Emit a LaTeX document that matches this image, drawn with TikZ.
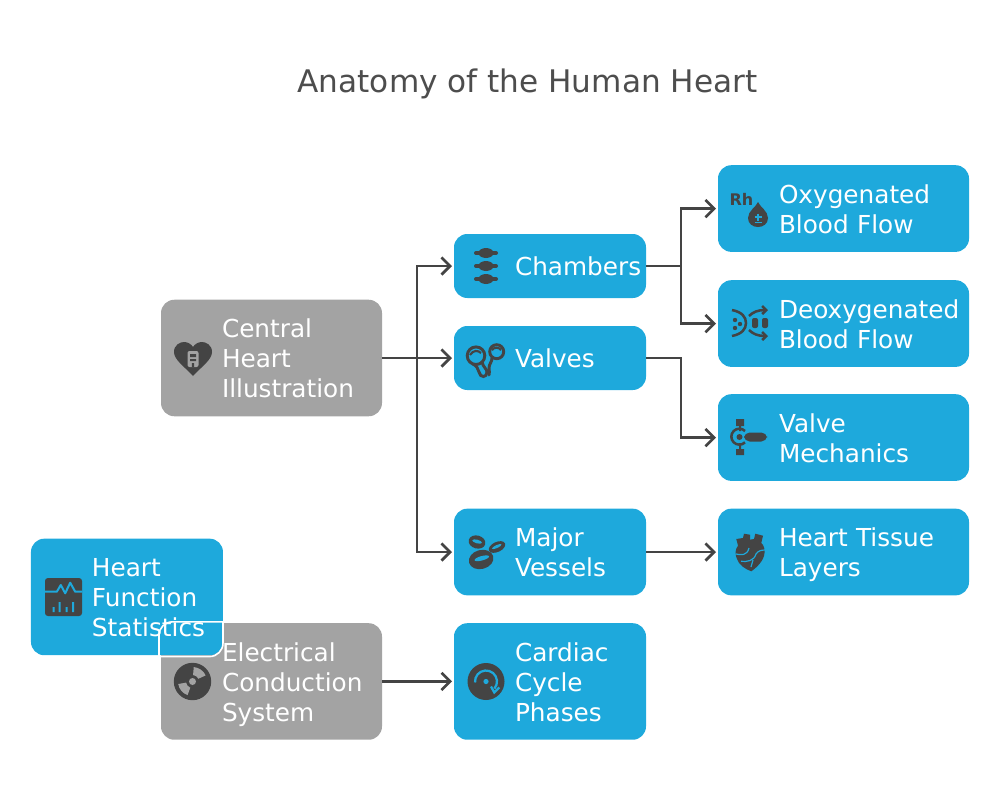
\documentclass[tikz,border=0pt]{standalone}
\usepackage{fontspec}
\setmainfont{DejaVu Sans}
\usetikzlibrary{arrows.meta}
\definecolor{partblue}{HTML}{1EA9DC}
\definecolor{chiefgray}{HTML}{A3A3A3}
\definecolor{ink}{HTML}{444444}
\tikzset{
    pics/heartmark/.style={code={
        \fill[ink] (0,18) .. controls (-8,9) and (-19,2) .. (-19,-6) .. controls (-19,-13) and (-13,-16) .. (-9,-16) .. controls (-5,-16) and (-2,-14) .. (0,-11) .. controls (2,-14) and (5,-16) .. (9,-16) .. controls (13,-16) and (19,-13) .. (19,-6) .. controls (19,2) and (8,9) .. (0,18) -- cycle;
        \fill[chiefgray,rounded corners=1.5] (-5.5,-7) rectangle (5.5,9);
        \fill[ink] (-3,-4) rectangle (3,-1) (-3,1) rectangle (3,3) (-1.2,5) rectangle (1.2,9);
    }},
    pics/spinemark/.style={code={
        \foreach \y in {-13,0,13}{
            \draw[ink,line width=3pt,line cap=round] (-10,\y) -- (10,\y);
            \fill[ink] (0,\y) ellipse[x radius=7.5,y radius=5];
        }
    }},
    pics/valvemark/.style={code={
        \draw[ink,line width=2.2pt] (-10,-2.3) circle[radius=8.8];
        \draw[ink,line width=2.2pt] (10.7,-6.3) circle[radius=7];
        \draw[ink,line width=2.2pt,line cap=round] (-13,6) .. controls (-9,8) and (-8,11) .. (-7,14) .. controls (-6,20) and (1,20) .. (1,14) .. controls (1,11) and (-3,9) .. (-4,4);
        \draw[ink,line width=2.2pt,line cap=round] (6,0) .. controls (6,4) and (3,6) .. (3,10) .. controls (3,13) and (4,15) .. (3,17);
        \draw[ink,line width=1.6pt] (-16,-3) .. controls (-13,-8) and (-8,-8) .. (-5,-5);
        \draw[ink,line width=1.6pt] (6,-8) .. controls (8,-11) and (13,-11) .. (15,-8);
    }},
    pics/cellmark/.style={code={
        \fill[ink,rotate around={-15:(-9,-10)}] (-9,-10) ellipse[x radius=8.5,y radius=6.5];
        \fill[ink,rotate around={25:(11,-5)}] (11,-5) ellipse[x radius=8.8,y radius=5];
        \fill[ink,rotate around={15:(-5,7)}] (-5,7.5) ellipse[x radius=12.5,y radius=9.5];
        \fill[partblue,rotate around={-15:(-9,-10)}] (-9,-10.5) ellipse[x radius=5,y radius=1.8];
        \fill[partblue,rotate around={25:(11,-5)}] (11,-5.5) ellipse[x radius=5.2,y radius=1.5];
        \fill[partblue,rotate around={15:(-5,7)}] (-4,6.5) ellipse[x radius=7.5,y radius=2.2];
    }},
    pics/cyclemark/.style={code={
        \fill[ink] (0,0) circle[radius=18.5];
        \draw[partblue,line width=1.7pt] (175:11) arc[start angle=175,end angle=400,radius=11];
        \draw[partblue,line width=1.7pt] (5,5) -- (8.3,11) -- (13.3,6);
        \fill[partblue] (0,0) circle[radius=2.6];
    }},
    pics/rhmark/.style={code={
        \node[text=ink,inner sep=0,font=\bfseries\fontsize{12}{12}\selectfont](rh) at (-6.5,-9) {Rh};
        \fill[ink] (10,-6) .. controls (12,-1) and (20,3) .. (20,10) .. controls (20,16) and (15,19) .. (10,19) .. controls (5,19) and (0,16) .. (0,10) .. controls (0,3) and (8,-1) .. (10,-6) -- cycle;
        \draw[partblue,line width=1pt] (6.5,9) -- (13.5,9) (10,5.5) -- (10,12.5) (6.5,14.5) -- (13.5,14.5);
    }},
    pics/shufflemark/.style={code={
        \draw[ink,line width=1.9pt] (-18,-13) .. controls (-8,-11) and (-4,-6) .. (-4,0) .. controls (-4,6) and (-8,11) .. (-18,13);
        \draw[ink,line width=1.9pt,-{Straight Barb[length=3pt,width=6pt]}] (-1,-7) .. controls (3,-11) and (8,-13) .. (18,-13);
        \draw[ink,line width=1.9pt,-{Straight Barb[length=3pt,width=6pt]}] (-1,7) .. controls (3,11) and (8,13) .. (18,13);
        \fill[ink] (-15,-3) circle[radius=2.2] (-15,5) circle[radius=2.2] (-10,1) circle[radius=2.2];
        \fill[ink,rounded corners=1.5] (2,-5) rectangle (8,5) (12,-5) rectangle (18,5);
    }},
    pics/pistonmark/.style={code={
        \fill[ink] (-13,-18) rectangle (-5,-11) (-13,12) rectangle (-5,18);
        \draw[ink,line width=1.9pt] (-4,-6) arc[start angle=-45,end angle=-315,radius=8];
        \fill[ink] (-10,-11) rectangle (-8,-6) (-10,6) rectangle (-8,12);
        \fill[ink] (-9.5,0) circle[radius=3];
        \fill[ink,rounded corners=4.2] (-5,-4.5) rectangle (18,4.5);
    }},
    pics/tissuemark/.style={code={
        \fill[ink] (-13.7,-14) -- (-7,-15) -- (-6,-19.3) -- (0,-18.3) -- (0,-13.3) -- (4,-14) -- (5.3,-19.3) -- (13,-17.3) -- (11.3,-10) .. controls (14,-8) and (15,-3) .. (14.5,0) .. controls (14,8) and (6,15) .. (1.3,18.3) .. controls (-5,16) and (-11,12) .. (-13,6) .. controls (-15,2) and (-15,-4) .. (-12,-7.3) -- cycle;
        \draw[partblue,line width=.9pt] (-14,1) .. controls (-9,2) and (-3,3) .. (-1,-5);
        \draw[partblue,line width=.9pt] (-9,8.3) .. controls (-3,9) and (4,8) .. (6,1) .. controls (8,-2) and (11,-3) .. (15,-3);
        \draw[partblue,line width=.9pt] (1,14) -- (3,7);
    }},
    pics/statsmark/.style={code={
        \fill[ink,rounded corners=2.2] (-18.5,-19) rectangle (18.5,19);
        \draw[partblue,line width=1.5pt,line join=round] (-18.5,-5.3) -- (-6.7,-5.3) -- (-2.7,-12) -- (1.7,-3.7) -- (6.7,-14.3) -- (11.7,-5.3) -- (18.5,-5.3);
        \fill[partblue] (-11,10) rectangle (-9,15) (-5,5) rectangle (-3,15) (2,10) rectangle (4,15) (8.5,5) rectangle (10.5,15);
    }},
    pics/discmark/.style={code={
        \fill[ink] (0,0) circle[radius=18.7];
        \fill[chiefgray] (0,0) circle[radius=3.5];
        \foreach \a in {-55,-220}{
            \fill[chiefgray] (\a-30:6.5) -- (\a-30:14.5) arc[start angle=\a-30,end angle=\a+30,radius=14.5] -- (\a+30:6.5) arc[start angle=\a+30,end angle=\a-30,radius=6.5] -- cycle;
        }
    }},
}

\begin{document}
\begin{tikzpicture}[x=0.75pt,y=-0.75pt,>={Straight Barb[length=6.5pt,width=13pt]},line width=2pt]
        \tikzstyle{box}=[rectangle,rounded corners=10pt,inner sep=0,outer sep=0,align=left,text=white,font=\fontsize{18.55}{22.5}\selectfont,execute at begin node={\leftskip=45.75pt\rule[-4pt]{0pt}{22.5pt}},execute at end node={\rule[-4pt]{0pt}{22.5pt}}]
        \tikzstyle{chief}=[box,fill=chiefgray,text width=165.75pt,minimum height=87.4pt]
        \tikzstyle{part}=[box,fill=partblue,text width=144pt]
        \tikzstyle{detail}=[box,fill=partblue,text width=188.25pt,minimum height=65pt]
        \tikzstyle{pre}=[<-,draw=ink,shorten <=1.5pt]
        \tikzstyle{post}=[->,draw=ink,shorten >=1.5pt]
        \tikzstyle{seam}=[draw=white,line width=1.2pt,rounded corners=10pt]

        \useasboundingbox (0,0) rectangle (1000,801);
        \node[text=ink!95,font=\fontsize{23.35}{27}\selectfont](title) at (527.5,84) {Anatomy of the Human Heart};

        \node[chief](central) at (271.5,358) {Central\\Heart\\Illustration};
        \node[part,minimum height=48pt,right of=central,node distance=208.875pt](valves) {Valves};
        \node[part,minimum height=48pt,above of=valves,node distance=69pt](chambers) {Chambers};
        \node[part,minimum height=65pt,below of=valves,node distance=145.5pt](vessels) {Major\\Vessels};
        \node[part,minimum height=87.4pt,below of=vessels,node distance=97.1pt](cycle) {Cardiac\\Cycle\\Phases};
        \node[chief,left of=cycle,node distance=208.875pt](conduction) {Electrical\\Conduction\\System}
            edge [post] (cycle);
        \node[part,minimum height=87.4pt,left of=conduction,node distance=108.4pt,yshift=63.4pt](stats) {Heart\\Function\\Statistics};

        \node[detail,right of=chambers,node distance=220.125pt,yshift=43.1pt](oxygen) {Oxygenated\\Blood Flow};
        \node[detail,below of=oxygen,node distance=86.25pt](deoxygen) {Deoxygenated\\Blood Flow};
        \node[detail,below of=deoxygen,node distance=85.5pt](mechanics) {Valve\\Mechanics};
        \node[detail,right of=vessels,node distance=220.125pt](tissue) {Heart Tissue\\Layers}
            edge [pre] (vessels);

        \draw[post] (central.east) -- (valves.west);
        \draw[post] (central.east) -- ++(26.25pt,0) |- (chambers.west);
        \draw[post] (central.east) -- ++(26.25pt,0) |- (vessels.west);
        \draw[post] (chambers.east) -- ++(26.25pt,0) |- (oxygen.west);
        \draw[post] (chambers.east) -- ++(26.25pt,0) |- (deoxygen.west);
        \draw[post] (valves.east) -- ++(26.25pt,0) |- (mechanics.west);

        \coordinate (seamnw) at ([shift={(-1.5pt,1pt)}]conduction.north west);
        \coordinate (seamse) at ([shift={(0pt,-1pt)}]stats.south east);
        \draw[seam] (seamnw |- seamse) -- (seamnw) -- (seamse |- seamnw);
        \draw[seam] (seamse |- seamnw) -- (seamse) -- (seamnw |- seamse);

        \pic at (193,358) {heartmark};
        \pic at (486,266) {spinemark};
        \pic at (486,358) {valvemark};
        \pic at (486,552) {cellmark};
        \pic at (486,681.5) {cyclemark};
        \pic at (748,208) {rhmark};
        \pic at (750,323) {shufflemark};
        \pic at (749,437) {pistonmark};
        \pic at (750,553) {tissuemark};
        \pic at (63.5,597) {statsmark};
        \pic at (192.5,681.5) {discmark};
\end{tikzpicture}
\end{document}
